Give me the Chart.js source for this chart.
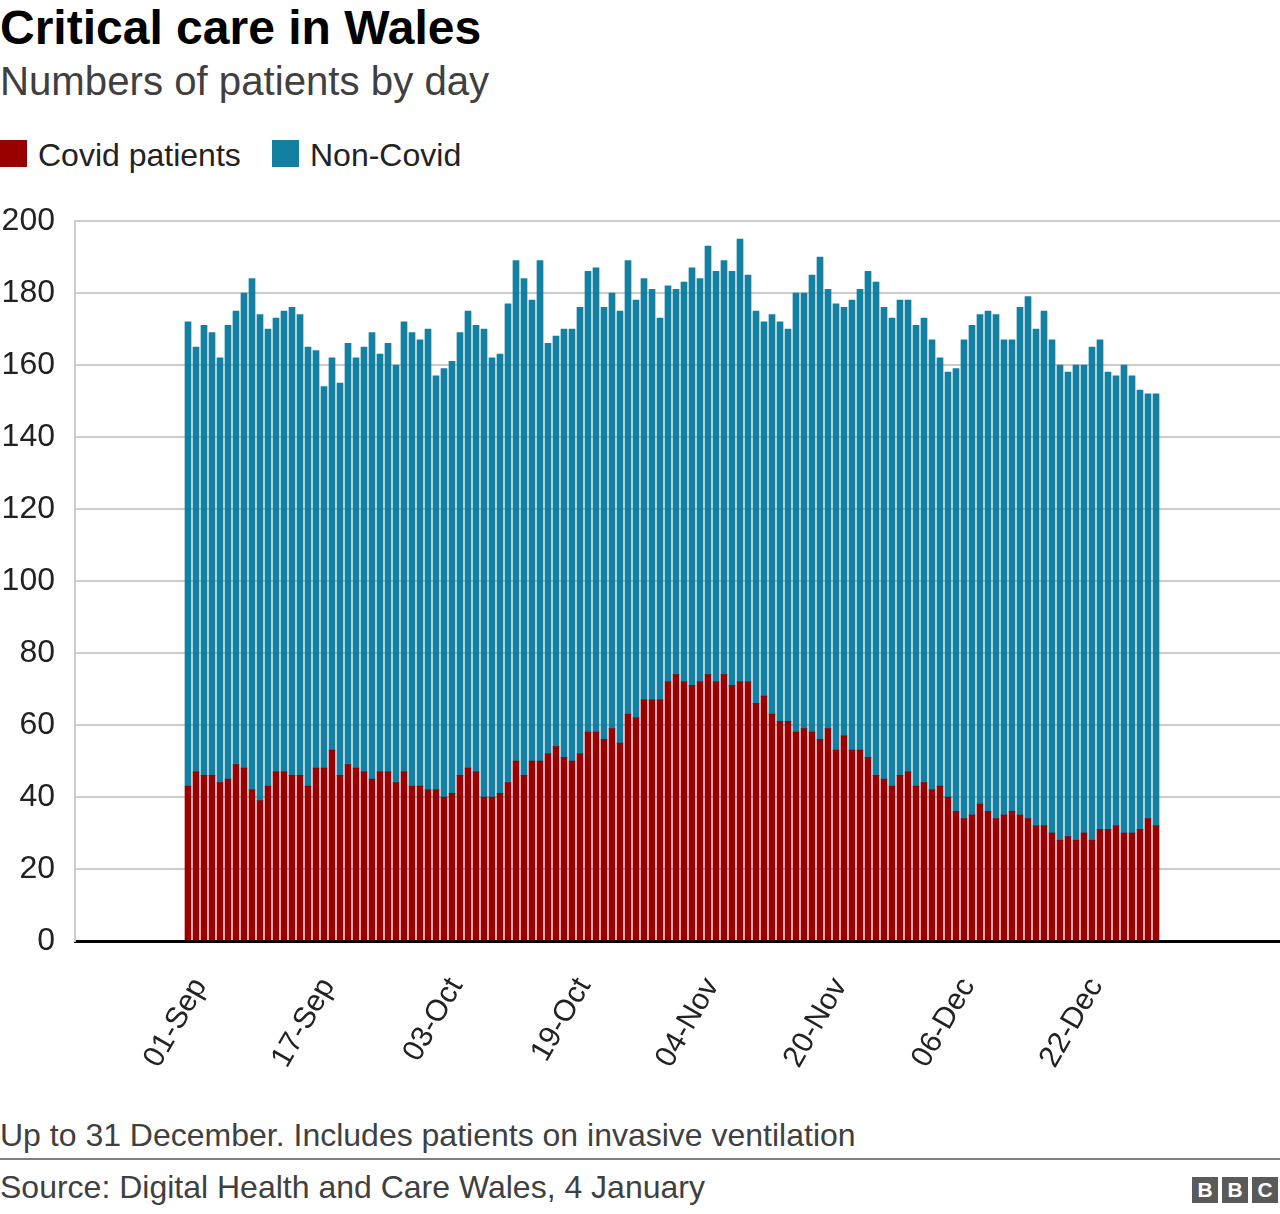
<!DOCTYPE html>
<html><head><meta charset="utf-8">
<script src="https://cdn.jsdelivr.net/npm/chart.js@4.4.1/dist/chart.umd.min.js"></script>
<style>
html,body{margin:0;padding:0;background:#fff;}
body{width:1280px;height:1214px;position:relative;overflow:hidden;font-family:"Liberation Sans",Arial,Helvetica,sans-serif;}
.t{position:absolute;white-space:nowrap;line-height:1;}
#title{left:0;top:4px;font-size:48px;font-weight:bold;color:#000;}
#subtitle{left:0;top:62px;font-size:40.2px;color:#404040;}
.sw{position:absolute;width:27px;height:27px;top:140px;}
.lg{top:139px;font-size:32px;color:#222;}
#note{left:0;top:1119px;font-size:32px;color:#404040;}
#rule{position:absolute;left:0;top:1158px;width:1280px;height:2px;background:#7f7f7f;}
#source{left:0;top:1171px;font-size:32px;color:#404040;}
.bb{position:absolute;top:1177px;width:26px;height:26px;background:#5a5a5a;color:#fff;font-weight:bold;font-size:21px;line-height:26px;text-align:center;}
#wrap{position:absolute;left:0;top:200px;width:1280px;height:900px;}
</style></head>
<body>
<div id="title" class="t">Critical care in Wales</div>
<div id="subtitle" class="t">Numbers of patients by day</div>
<div class="sw" style="left:0;background:#990000"></div>
<div class="t lg" style="left:38px">Covid patients</div>
<div class="sw" style="left:272px;background:#1380a1"></div>
<div class="t lg" style="left:310px">Non-Covid</div>
<div id="wrap"><canvas id="c" width="1280" height="900"></canvas></div>
<div id="note" class="t">Up to 31 December. Includes patients on invasive ventilation</div>
<div id="rule"></div>
<div id="source" class="t">Source: Digital Health and Care Wales, 4 January</div>
<div class="bb" style="left:1192px">B</div>
<div class="bb" style="left:1222px">B</div>
<div class="bb" style="left:1252px">C</div>
<script>
// Tick labels (day offsets from 01-Sep)
const tickLabels = ['01-Sep','17-Sep','03-Oct','19-Oct','04-Nov','20-Nov','06-Dec','22-Dec'];
const tickDays = [0,16,32,48,64,80,96,112];

// Covid patients in critical care, 01-Sep .. 31-Dec
const covid = [
43,47,46,46,44,45,49,48,42,39,43,47,47,46,46,43,48,48,53,46,49,48,47,45,47,47,44,47,43,43,42,
42,40,41,46,48,47,40,40,41,44,50,46,50,50,52,54,51,50,52,58,58,56,59,55,63,62,67,67,67,72,74,
72,71,72,74,72,74,71,72,72,66,68,63,61,61,58,59,58,56,59,53,57,53,53,51,46,45,43,46,47,43,
44,42,43,40,36,34,35,38,36,34,35,36,35,34,32,32,30,28,29,28,30,28,31,31,32,30,30,31,34,32
];
// Non-Covid patients in critical care, 01-Sep .. 31-Dec
const nonCovid = [
129,118,125,123,118,126,126,132,142,135,127,126,128,130,128,122,116,106,109,109,117,114,118,124,116,119,116,125,126,124,128,
115,119,120,123,127,124,130,122,122,133,139,138,128,139,114,114,119,120,124,128,129,120,121,120,126,116,117,114,106,110,107,
111,116,112,119,114,115,115,123,113,109,104,111,111,109,122,121,127,134,122,124,119,125,128,135,137,131,130,132,131,128,
129,125,119,118,123,133,136,136,139,140,132,131,141,145,138,143,137,132,129,132,130,137,136,127,125,130,127,122,118,120
];
const dayIndex = covid.map((_, i) => i);

Chart.defaults.font.family = '"Liberation Sans", Arial, Helvetica, sans-serif';

new Chart(document.getElementById('c'), {
  type: 'bar',
  data: {
    datasets: [
      { label: 'Covid patients', data: covid.map((v, i) => ({ x: dayIndex[i], y: v })),
        backgroundColor: '#990000', borderWidth: 0, barThickness: 6 },
      { label: 'Non-Covid', data: nonCovid.map((v, i) => ({ x: dayIndex[i], y: v })),
        backgroundColor: '#1380a1', borderWidth: 0, barThickness: 6 }
    ]
  },
  options: {
    responsive: false,
    animation: false,
    layout: { padding: { top: 21, left: 0, right: 0, bottom: 0 } },
    plugins: { legend: { display: false }, tooltip: { enabled: false } },
    scales: {
      x: {
        type: 'linear', stacked: true, offset: false,
        min: -14.125, max: 136.5,
        grid: { display: false, drawTicks: false },
        border: { display: true, color: '#000', width: 3 },
        afterBuildTicks: s => { s.ticks = tickDays.map(v => ({ value: v })); },
        afterFit: s => { s.height = 159; s.paddingLeft = 0; s.paddingRight = 0; },
        ticks: {
          autoSkip: false, maxRotation: 60, minRotation: 60, padding: 31, labelOffset: 12,
          font: { size: 30 }, color: '#222',
          callback: v => tickLabels[tickDays.indexOf(v)]
        }
      },
      y: {
        stacked: true, min: 0, max: 200,
        ticks: { stepSize: 20, padding: 20, font: { size: 32 }, color: '#222' },
        grid: { color: c => (c.tick && c.tick.value === 0) ? 'rgba(0,0,0,0)' : '#cccccc', lineWidth: 2, drawTicks: false },
        border: { display: true, color: '#cccccc', width: 2 },
        afterFit: s => { s.width = 75; s.paddingTop = 0; s.paddingBottom = 0; }
      }
    }
  }
});
</script>
</body></html>
